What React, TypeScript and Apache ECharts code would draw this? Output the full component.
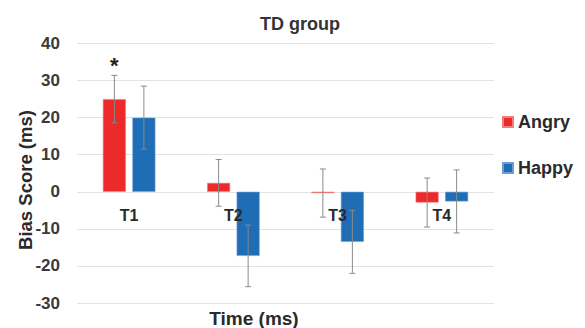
import React, { useEffect, useRef } from "react";
import * as echarts from "echarts";

const categories = ["T1", "T2", "T3", "T4"];
const angry = [25.0, 2.4, -0.35, -2.9];
const angryErr = [6.4, 6.3, 6.5, 6.6];
const happy = [20.0, -17.3, -13.5, -2.6];
const happyErr = [8.5, 8.3, 8.5, 8.5];
const angrySig = ["*", "", "", ""];
const happySig = ["", "", "", ""];
const yTicks = { min: -30, max: 40, interval: 10 };

const FONT = "'Liberation Sans', Arial, Helvetica, sans-serif";
const RED = "#EC2A2A";
const BLUE = "#1F6DB5";
const BAR_W = 23;
const GAP = 6.5;

function errSeries(name: string, vals: number[], errs: number[], sig: string[], offset: number) {
  const data = vals.map((v, i) => [i, v - errs[i], v + errs[i], sig[i]]);
  return {
    type: "custom",
    name: name + " err",
    z: 5,
    data,
    encode: { x: 0, y: [1, 2] },
    renderItem: (params: any, api: any) => {
      const idx = api.value(0);
      const lo = api.coord([idx, api.value(1)]);
      const hi = api.coord([idx, api.value(2)]);
      const x = lo[0] + offset;
      const style = { stroke: "#8a8a8a", lineWidth: 1 };
      const children: any[] = [
        { type: "line", shape: { x1: x, y1: hi[1], x2: x, y2: lo[1] }, style },
        { type: "line", shape: { x1: x - 3, y1: hi[1], x2: x + 3, y2: hi[1] }, style },
        { type: "line", shape: { x1: x - 3, y1: lo[1], x2: x + 3, y2: lo[1] }, style },
      ];
      const s = data[params.dataIndex][3] as string;
      if (s) {
        children.push({
          type: "text",
          style: {
            text: s,
            x,
            y: hi[1] - 10,
            align: "center",
            verticalAlign: "middle",
            fontSize: 22,
            fontWeight: "bold",
            fontFamily: FONT,
            fill: "#222",
          },
        });
      }
      return { type: "group", children };
    },
  };
}

const labelSeries = {
  type: "custom",
  name: "category labels",
  z: 6,
  data: categories.map((c, i) => [i, 0]),
  encode: { x: 0, y: 1 },
  renderItem: (params: any, api: any) => {
    const p = api.coord([api.value(0), 0]);
    return {
      type: "text",
      style: {
        text: categories[params.dataIndex],
        x: p[0],
        y: p[1] + 24,
        align: "center",
        verticalAlign: "middle",
        fontSize: 16,
        fontWeight: "bold",
        fontFamily: FONT,
        fill: "#2a2a2a",
      },
    };
  },
};

export default function App() {
  const ref = useRef<HTMLDivElement>(null);
  useEffect(() => {
    if (!ref.current) return;
    const chart = echarts.init(ref.current, undefined, { renderer: "svg" });
    const off = BAR_W / 2 + GAP / 2;
    chart.setOption({
      animation: false,
      backgroundColor: "#fff",
      textStyle: { fontFamily: FONT },
      title: {
        text: "TD group",
        left: 295,
        top: 10,
        textAlign: "center",
        textStyle: { fontSize: 18, fontWeight: "bold", color: "#333", fontFamily: FONT },
      },
      legend: {
        data: ["Angry", "Happy"],
        orient: "vertical",
        left: 497,
        top: 108,
        itemGap: 28,
        itemWidth: 10,
        itemHeight: 10,
        icon: "rect",
        textStyle: { fontSize: 18, fontWeight: "bold", color: "#2a2a2a", fontFamily: FONT },
      },
      graphic: [
        {
          type: "text",
          style: {
            text: "Time (ms)",
            x: 254,
            y: 318,
            align: "center",
            verticalAlign: "middle",
            fontSize: 19,
            fontWeight: "bold",
            fontFamily: FONT,
            fill: "#2a2a2a",
          },
        },
        {
          type: "text",
          x: 25,
          y: 180,
          rotation: Math.PI / 2,
          style: {
            text: "Bias Score (ms)",
            x: 0,
            y: 0,
            align: "center",
            verticalAlign: "middle",
            fontSize: 18.5,
            fontWeight: "bold",
            fontFamily: FONT,
            fill: "#2a2a2a",
          },
        },
      ],
      grid: { left: 77, right: 91, top: 43.5, bottom: 25, outerBoundsMode: "none", containLabel: false },
      xAxis: {
        type: "category",
        data: categories,
        axisLine: { show: false },
        axisTick: { show: false },
        axisLabel: { show: false },
        splitLine: { show: false },
      },
      yAxis: {
        type: "value",
        min: yTicks.min,
        max: yTicks.max,
        interval: yTicks.interval,
        axisLabel: { fontSize: 17, fontWeight: "bold", color: "#3a3a3a", margin: 17, fontFamily: FONT },
        splitLine: { lineStyle: { color: "#e2e2e2", width: 1 } },
        axisLine: { show: false },
        axisTick: { show: false },
      },
      series: [
        {
          type: "bar",
          name: "Angry",
          data: angry,
          barWidth: BAR_W,
          barGap: (GAP / BAR_W) * 100 + "%",
          itemStyle: { color: RED, borderColor: "#f27d7d", borderWidth: 0.6 },
        },
        {
          type: "bar",
          name: "Happy",
          data: happy,
          barWidth: BAR_W,
          itemStyle: { color: BLUE, borderColor: "#6f9fd0", borderWidth: 0.6 },
        },
        errSeries("Angry", angry, angryErr, angrySig, -off),
        errSeries("Happy", happy, happyErr, happySig, off),
        labelSeries,
      ],
    });
    return () => chart.dispose();
  }, []);
  return <div ref={ref} style={{ width: 585, height: 328, position: "absolute", left: 0, top: 0 }} />;
}
